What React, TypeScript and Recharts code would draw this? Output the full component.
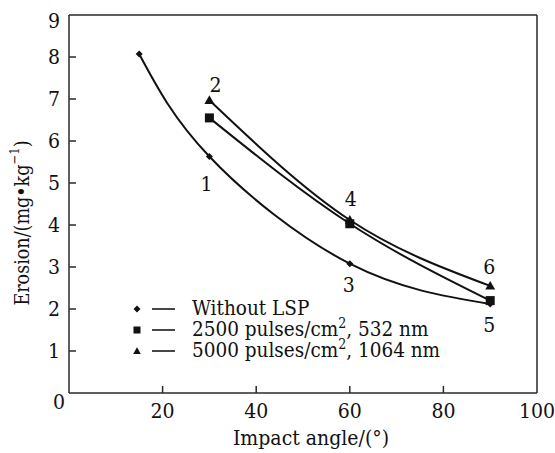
import React from "react";
import { LineChart, Line, XAxis, YAxis, ReferenceLine, LabelList } from "recharts";

// ---- data ----
const anglesBase = [15, 30, 60, 90];
const erosionBase = [8.07, 5.63, 3.08, 2.12];
const notesBase = ["", "1", "3", "5"];

const angles532 = [30, 60, 90];
const erosion532 = [6.55, 4.03, 2.2];
const notes532 = ["", "", ""];

const angles1064 = [30, 60, 90];
const erosion1064 = [6.97, 4.12, 2.55];
const notes1064 = ["2", "4", "6"];

const seriesNames = ["Without LSP", "2500 pulses/cm2, 532 nm", "5000 pulses/cm2, 1064 nm"];
const legendParts = [
  ["Without LSP", "", ""],
  ["2500 pulses/cm", "2", ", 532 nm"],
  ["5000 pulses/cm", "2", ", 1064 nm"],
];
const markerKinds = ["diamond", "square", "triangle"];

const xTicks = [0, 20, 40, 60, 80, 100];
const yTicks = [0, 1, 2, 3, 4, 5, 6, 7, 8, 9];
const xTitle = "Impact angle/(°)";
const yTitleMain = "Erosion/(mg•kg";
const yTitleSup = "−1";
const yTitleEnd = ")";

// ---- styles ----
const textStyle: any = { fontFamily: "DejaVu Serif", fontStretch: "condensed" };
const INK = "#111";
const AXIS = "#2a2a2a";
const FS = 21;
const noteOffsets: Record<string, [number, number]> = {
  "1": [-3, 27],
  "2": [6, -15],
  "3": [-1, 21],
  "4": [1, -21],
  "5": [-1, 21],
  "6": [-1, -19],
};

const build = (xs: number[], ys: number[], notes: string[]) =>
  xs.map((x, i) => ({ x, y: ys[i], note: notes[i] }));

const dataBase = build(anglesBase, erosionBase, notesBase);
const data532 = build(angles532, erosion532, notes532);
const data1064 = build(angles1064, erosion1064, notes1064);

const Marker = ({ kind, cx, cy, s }: { kind: string; cx: number; cy: number; s: number }) => {
  if (kind === "diamond") {
    const r = s * 0.5;
    return <polygon points={`${cx},${cy - r} ${cx + r},${cy} ${cx},${cy + r} ${cx - r},${cy}`} fill={INK} />;
  }
  if (kind === "square") {
    const r = s * 0.5;
    return <rect x={cx - r} y={cy - r} width={s} height={s} fill={INK} />;
  }
  const r = s * 0.55;
  return <polygon points={`${cx},${cy - r} ${cx + r},${cy + r * 0.75} ${cx - r},${cy + r * 0.75}`} fill={INK} />;
};

const makeDot = (kind: string, s: number) => (p: any) => (
  <g key={`${kind}-${p.index}`}>
    <Marker kind={kind} cx={p.cx} cy={p.cy} s={s} />
  </g>
);

const NoteLabel = (p: any) => {
  if (!p.value) return null;
  const off = noteOffsets[p.value] || [0, 0];
  return (
    <text
      x={p.x + off[0]}
      y={p.y + off[1]}
      textAnchor="middle"
      dominantBaseline="central"
      style={textStyle}
      fontSize={FS}
      fill={INK}
    >
      {p.value}
    </text>
  );
};

const XTick = (p: any) => {
  const v = p.payload.value;
  return (
    <g>
      {v > 0 && v < 100 && <line x1={p.x} x2={p.x} y1={p.y} y2={p.y - 7} stroke={AXIS} strokeWidth={1.5} />}
      {v !== 0 && (
        <text x={p.x} y={p.y + 18} textAnchor="middle" dominantBaseline="central" style={textStyle} fontSize={FS} fill={INK}>
          {v}
        </text>
      )}
    </g>
  );
};

const YTick = (p: any) => {
  const v = p.payload.value;
  let tx = p.x - 9;
  let ty = p.y;
  let anchor = "end";
  if (v === 0) {
    tx = p.x - 10;
    ty = p.y + 9;
    anchor = "middle";
  }
  if (v === 9) ty = p.y + 6;
  return (
    <g>
      {v > 0 && v < 9 && <line x1={p.x} x2={p.x + 7} y1={p.y} y2={p.y} stroke={AXIS} strokeWidth={1.5} />}
      <text x={tx} y={ty} textAnchor={anchor} dominantBaseline="central" style={textStyle} fontSize={FS} fill={INK}>
        {v}
      </text>
    </g>
  );
};

const LegendBox = () => (
  <div
    style={{
      position: "absolute",
      left: 122,
      top: 298,
      fontSize: 20.5,
      color: INK,
      lineHeight: "21px",
      ...textStyle,
    }}
  >
    {legendParts.map((parts, i) => (
      <div key={seriesNames[i]} style={{ display: "flex", alignItems: "center", height: 21 }}>
        <svg width={54} height={21} style={{ flex: "none" }}>
          <Marker kind={markerKinds[i]} cx={15} cy={11} s={7} />
          <line x1={30} x2={53} y1={11} y2={11} stroke="#333" strokeWidth={1.8} />
        </svg>
        <span style={{ whiteSpace: "nowrap", marginLeft: 16 }}>
          {parts[0]}
          {parts[1] && <sup style={{ fontSize: 14, lineHeight: 0 }}>{parts[1]}</sup>}
          {parts[2]}
        </span>
      </div>
    ))}
  </div>
);

export default function App() {
  return (
    <div style={{ position: "absolute", left: 0, top: 0, width: 555, height: 453, background: "#fff" }}>
      <LineChart width={555} height={453} margin={{ top: 15, right: 18, left: 0, bottom: 0 }}>
        <XAxis
          type="number"
          dataKey="x"
          domain={[0, 100]}
          ticks={xTicks}
          height={60}
          tickSize={0}
          tickMargin={0}
          tickLine={false}
          tick={<XTick />}
          stroke={AXIS}
          strokeWidth={1.5}
          allowDuplicatedCategory={false}
          label={{
            content: () => (
              <text x={311} y={438} textAnchor="middle" dominantBaseline="central" style={textStyle} fontSize={FS} fill={INK}>
                {xTitle}
              </text>
            ),
          }}
        />
        <YAxis
          type="number"
          domain={[0, 9]}
          ticks={yTicks}
          width={69}
          tickSize={0}
          tickMargin={0}
          tickLine={false}
          tick={<YTick />}
          stroke={AXIS}
          strokeWidth={1.5}
          label={{
            content: () => (
              <text
                x={22}
                y={223}
                transform="rotate(-90 22 223)"
                textAnchor="middle"
                dominantBaseline="central"
                style={textStyle}
                fontSize={19.5}
                fill={INK}
              >
                {yTitleMain}
                <tspan dy={-8} fontSize={13}>{yTitleSup}</tspan>
                <tspan dy={8}>{yTitleEnd}</tspan>
              </text>
            ),
          }}
        />
        <ReferenceLine y={9} stroke={AXIS} strokeWidth={1.5} />
        <ReferenceLine x={100} stroke={AXIS} strokeWidth={1.5} />
        <Line
          data={dataBase}
          dataKey="y"
          name={seriesNames[0]}
          type="natural"
          stroke={INK}
          strokeWidth={2}
          dot={makeDot("diamond", 7)}
          activeDot={false}
          isAnimationActive={false}
        >
          <LabelList dataKey="note" content={<NoteLabel />} />
        </Line>
        <Line
          data={data532}
          dataKey="y"
          name={seriesNames[1]}
          type="natural"
          stroke={INK}
          strokeWidth={2}
          dot={makeDot("square", 9)}
          activeDot={false}
          isAnimationActive={false}
        />
        <Line
          data={data1064}
          dataKey="y"
          name={seriesNames[2]}
          type="natural"
          stroke={INK}
          strokeWidth={2}
          dot={makeDot("triangle", 9)}
          activeDot={false}
          isAnimationActive={false}
        >
          <LabelList dataKey="note" content={<NoteLabel />} />
        </Line>
      </LineChart>
      <LegendBox />
    </div>
  );
}
